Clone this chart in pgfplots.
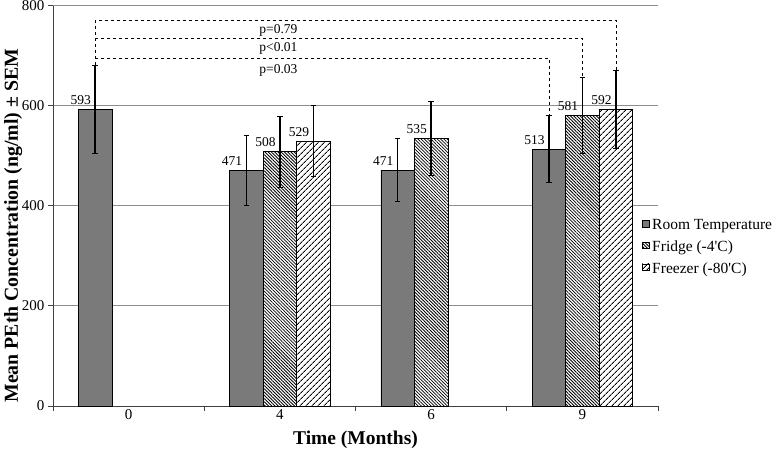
\documentclass[border=0pt]{standalone}
\usepackage{fontspec}
\setmainfont{Liberation Serif}
\usepackage{pgfplots}
\pgfplotsset{compat=1.18}
\usetikzlibrary{patterns.meta}
\pgfplotsset{
  myerr/.style={error bars/.cd, y dir=both, y explicit,
    error bar style={line width=1.3pt, black},
    error mark=-,
    error mark options={rotate=90, mark size=2.8pt, line width=1pt, black}},
}
\begin{document}
\begin{tikzpicture}
\useasboundingbox (-53pt,-47pt) rectangle (724pt,406pt);
\begin{axis}[
  at={(0pt,0pt)}, anchor=south west,
  scale only axis, width=605pt, height=400.5pt,
  xmin=-0.5, xmax=3.5, ymin=0, ymax=800,
  /pgf/number format/assume math mode=true,
  ytick={0,200,400,600,800},
  xtick={-0.5,0.5,1.5,2.5,3.5}, xticklabels={},
  extra x ticks={0,1,2,3}, extra x tick labels={0,4,6,9},
  extra x tick style={major tick length=0pt},
  tick align=outside, major tick length=5pt, tick pos=left,
  tick style={black!75, line width=0.8pt},
  axis lines*=left, axis line style={-, black!75, line width=0.8pt},
  ymajorgrids, grid style={black!45, line width=0.9pt},
  tick label style={font=\fontsize{15}{17}\selectfont},
  xlabel={\textbf{Time (Months)}},
  ylabel={\textbf{Mean PEth Concentration (ng/ml) ± SEM}},
  xlabel style={at={(axis description cs:0.5,-0.085)}, anchor=center, font=\fontsize{19.5}{21}\selectfont},
  ylabel style={at={(axis description cs:-0.066,0.45)}, rotate=0, anchor=center, font=\fontsize{19.8}{21}\selectfont},
  area legend,
  legend style={draw=none, fill=none, at={(0.9736,0.396)}, anchor=west,
    font=\fontsize{15.5}{17}\selectfont, row sep=9.5pt, inner sep=0pt,
    nodes={inner xsep=3pt, inner ysep=0pt}},
  legend cell align=left,
  legend image code/.code={\draw[#1, line width=0.5pt] (0pt,-1.5pt) rectangle (6.5pt,5pt);},
  every node near coord/.append style={anchor=south east, xshift=-0.5pt, yshift=1pt, font=\fontsize{13.5}{15}\selectfont, black},
]
% Room temperature
\addplot[ybar, bar width=0.2215, bar shift=0, fill=black!52, draw=black, line width=0.6pt,
  nodes near coords, myerr]
  coordinates {(-0.2215,593) +- (0,88) (0.7785,471) +- (0,70) (1.7785,471) +- (0,63) (2.7785,513) +- (0,67)};
\addlegendentry{Room Temperature}
% Fridge
\addplot[ybar, bar width=0.2215, bar shift=0, fill=white, draw=black, line width=0.6pt,
  postaction={pattern={Lines[angle=-45, distance=2.3pt, line width=0.8pt]}},
  nodes near coords, myerr]
  coordinates {(1,508) +- (0,71) (2,535) +- (0,74) (3,581) +- (0,76)};
\addlegendentry{Fridge (-4\textquotesingle C)}
% Freezer
\addplot[ybar, bar width=0.2215, bar shift=0, fill=white, draw=black, line width=0.6pt,
  postaction={pattern={Lines[angle=45, distance=4pt, line width=0.9pt]}},
  nodes near coords, myerr]
  coordinates {(1.2215,529) +- (0,71) (3.2215,592) +- (0,78)};
\addlegendentry{Freezer (-80\textquotesingle C)}
% significance brackets
\addplot[forget plot, black, dashed, line width=0.7pt, mark=none] coordinates {(-0.2215,681) (-0.2215,770) (3.2215,770) (3.2215,670)};
\addplot[forget plot, black, dashed, line width=0.7pt, mark=none] coordinates {(-0.2215,734) (3,734) (3,657)};
\addplot[forget plot, black, dashed, line width=0.7pt, mark=none] coordinates {(-0.2215,695) (2.7785,695) (2.7785,580)};
\node[font=\fontsize{13.5}{15}\selectfont, anchor=north west, inner sep=2pt] at (axis cs:0.85,767) {p=0.79};
\node[font=\fontsize{13.5}{15}\selectfont, anchor=north west, inner sep=2pt] at (axis cs:0.85,731) {p<0.01};
\node[font=\fontsize{13.5}{15}\selectfont, anchor=north west, inner sep=2pt] at (axis cs:0.85,686) {p=0.03};
\end{axis}
\end{tikzpicture}
\end{document}
